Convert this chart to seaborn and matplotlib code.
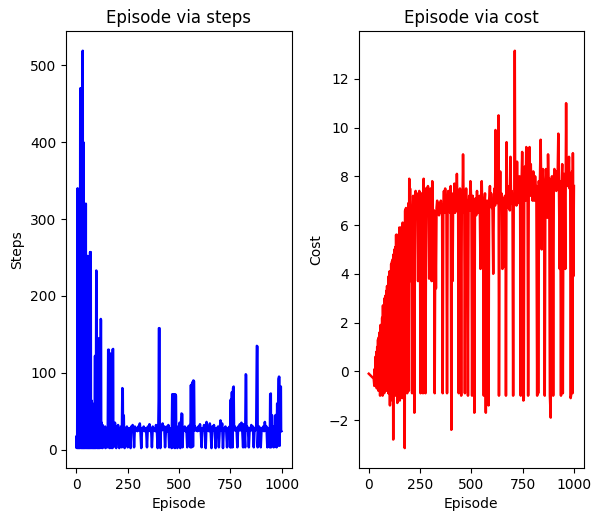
import matplotlib
matplotlib.use("Agg")
import matplotlib.pyplot as plt
import seaborn as sns

# steps per episode
step_eps = [0, 2, 4, 6, 7, 9, 10, 12, 13, 15, 16, 18, 19, 20, 22, 23, 25, 26, 28, 29,
            31, 32, 34, 35, 37, 38, 40, 41, 43, 44, 46, 47, 49, 50, 52, 53, 55, 56, 58, 59,
            61, 62, 64, 65, 67, 68, 70, 71, 73, 74, 76, 77, 79, 80, 82, 83, 85, 86, 88, 89,
            91, 92, 94, 95, 97, 98, 99, 101, 102, 104, 105, 107, 108, 110, 111, 113, 114, 116, 117, 119,
            120, 121, 123, 124, 126, 128, 130, 132, 134, 137, 140, 142, 145, 148, 151, 153, 155, 158, 159, 161,
            163, 165, 168, 169, 171, 174, 176, 179, 180, 182, 185, 188, 191, 194, 197, 200, 203, 206, 209, 212,
            215, 218, 221, 224, 226, 227, 229, 231, 232, 235, 238, 242, 246, 250, 253, 257, 261, 264, 267, 270,
            274, 278, 281, 285, 289, 293, 297, 301, 305, 309, 312, 316, 320, 324, 328, 332, 336, 340, 344, 348,
            352, 356, 360, 364, 368, 372, 376, 380, 384, 388, 392, 396, 399, 401, 402, 405, 406, 409, 412, 416,
            420, 424, 428, 432, 436, 440, 444, 448, 452, 456, 460, 464, 467, 470, 472, 474, 477, 480, 482, 485,
            486, 489, 492, 495, 499, 503, 506, 509, 512, 516, 517, 520, 524, 528, 532, 536, 540, 544, 548, 552,
            555, 558, 561, 563, 566, 568, 570, 573, 575, 578, 582, 586, 590, 594, 598, 602, 606, 610, 614, 618,
            622, 626, 630, 634, 638, 642, 646, 650, 654, 658, 662, 666, 670, 674, 678, 682, 686, 690, 694, 698,
            702, 706, 710, 714, 718, 722, 726, 730, 734, 738, 742, 746, 749, 752, 754, 756, 759, 761, 763, 766,
            768, 772, 776, 780, 784, 788, 792, 796, 800, 804, 808, 812, 815, 818, 822, 825, 827, 828, 832, 836,
            840, 844, 848, 852, 856, 860, 864, 868, 872, 876, 879, 882, 883, 886, 890, 894, 898, 902, 906, 910,
            914, 918, 922, 926, 930, 934, 938, 942, 944, 947, 948, 951, 954, 955, 958, 961, 964, 967, 970, 972,
            975, 978, 981, 984, 987, 989, 990, 993, 996, 997, 999]
steps = [3, 18, 2, 340, 3, 150, 2, 230, 4, 300, 2, 200, 470, 3, 470, 2, 300, 5, 380, 2,
         519, 3, 400, 2, 250, 6, 210, 2, 240, 3, 320, 2, 250, 5, 180, 2, 252, 4, 200, 2,
         250, 3, 230, 2, 257, 5, 257, 2, 64, 4, 40, 2, 30, 5, 55, 2, 35, 4, 60, 2,
         122, 3, 40, 2, 233, 230, 3, 85, 2, 40, 5, 70, 2, 145, 3, 60, 2, 40, 4, 170,
         168, 3, 35, 25, 2, 32, 26, 3, 28, 25, 30, 2, 26, 24, 3, 25, 130, 130, 3, 28,
         2, 125, 123, 3, 28, 2, 130, 131, 3, 30, 25, 35, 26, 2, 30, 25, 32, 24, 2, 28,
         25, 30, 3, 80, 78, 25, 45, 44, 25, 2, 26, 25, 30, 3, 25, 28, 24, 2, 30, 25,
         32, 25, 3, 30, 25, 28, 24, 30, 25, 34, 25, 2, 28, 25, 30, 24, 28, 25, 3, 30,
         25, 33, 24, 28, 3, 30, 25, 28, 24, 32, 25, 2, 28, 66, 158, 158, 30, 2, 28, 25,
         34, 26, 30, 3, 25, 30, 24, 32, 3, 28, 25, 2, 72, 70, 3, 72, 71, 2, 72, 70,
         25, 30, 2, 28, 25, 35, 2, 30, 47, 46, 3, 28, 25, 30, 24, 28, 3, 30, 25, 32,
         3, 84, 3, 85, 88, 4, 90, 89, 25, 30, 25, 28, 24, 30, 25, 33, 24, 3, 28, 25,
         32, 25, 2, 36, 25, 28, 24, 34, 25, 2, 30, 25, 32, 24, 2, 28, 25, 30, 3, 25,
         38, 25, 34, 2, 28, 25, 30, 24, 3, 28, 25, 30, 3, 65, 3, 74, 75, 3, 80, 82,
         25, 30, 25, 28, 3, 30, 25, 33, 25, 35, 25, 3, 33, 25, 3, 98, 97, 25, 30, 25,
         3, 28, 25, 32, 25, 30, 3, 28, 25, 30, 135, 134, 3, 25, 30, 25, 3, 28, 25, 30,
         24, 36, 25, 30, 3, 28, 25, 3, 72, 73, 3, 45, 44, 25, 30, 3, 28, 4, 45, 25,
         3, 60, 5, 92, 95, 94, 5, 80, 82, 25, 24]

# cost per episode
cost_eps = [0, 6, 12, 18, 24, 27, 29, 31, 33, 35, 37, 39, 41, 43, 45, 47, 49, 51, 53, 55,
            57, 59, 61, 63, 65, 67, 69, 71, 73, 75, 77, 79, 81, 83, 85, 87, 89, 91, 93, 95,
            97, 99, 101, 103, 105, 107, 109, 111, 113, 115, 117, 119, 121, 123, 125, 127, 129, 131, 133, 135,
            137, 139, 141, 143, 145, 147, 149, 151, 153, 155, 157, 159, 161, 163, 165, 167, 169, 171, 173, 175,
            177, 179, 181, 183, 185, 187, 189, 191, 193, 195, 197, 199, 201, 203, 205, 207, 209, 211, 213, 216,
            219, 222, 225, 228, 231, 234, 237, 240, 243, 246, 249, 252, 255, 258, 261, 264, 267, 270, 273, 276,
            279, 282, 285, 288, 291, 294, 297, 300, 303, 306, 309, 312, 315, 318, 321, 324, 327, 330, 333, 336,
            339, 342, 345, 348, 351, 354, 357, 360, 363, 366, 369, 372, 375, 378, 381, 384, 387, 390, 393, 396,
            399, 402, 405, 408, 411, 414, 417, 420, 423, 426, 429, 432, 435, 438, 441, 444, 447, 450, 453, 456,
            459, 462, 465, 468, 471, 474, 477, 480, 483, 486, 489, 492, 495, 500, 503, 506, 509, 512, 514, 517,
            520, 523, 527, 530, 533, 536, 540, 544, 547, 550, 553, 556, 560, 563, 566, 570, 573, 576, 580, 583,
            586, 590, 593, 596, 599, 602, 606, 609, 612, 615, 617, 619, 622, 625, 628, 632, 634, 637, 640, 643,
            646, 649, 651, 654, 657, 660, 663, 666, 668, 671, 674, 677, 680, 683, 687, 690, 693, 696, 700, 703,
            706, 709, 711, 713, 716, 719, 722, 725, 728, 731, 734, 737, 740, 743, 747, 750, 753, 755, 757, 760,
            763, 767, 770, 773, 776, 779, 783, 786, 789, 792, 795, 798, 801, 804, 807, 810, 813, 816, 820, 823,
            825, 828, 832, 837, 840, 842, 845, 848, 851, 854, 857, 860, 863, 867, 870, 873, 876, 879, 882, 886,
            889, 892, 895, 898, 901, 904, 907, 910, 913, 916, 919, 923, 926, 930, 933, 936, 939, 942, 945, 948,
            951, 954, 957, 961, 963, 966, 969, 972, 975, 978, 981, 983, 985, 987, 990, 992, 994, 996, 999]
cost = [-0.1, -0.15, -0.2, -0.25, -0.3, -0.6, 0.1, -0.4, 0.6, -0.5, 0.8, -0.7, 1.0, -0.4, 1.3, -0.8, 1.4, -0.5, 1.6, -1.0,
        1.9, -0.8, 1.9, -0.6, 2.2, -1.0, 2.7, -0.3, 2.7, -0.9, 3.0, -0.6, 3.1, -0.5, 3.3, -0.8, 3.5, -0.6, 3.4, -0.9,
        3.9, -0.7, 4.1, -1.4, 3.6, -0.9, 4.4, -0.5, 4.5, -1.2, 4.6, -2.8, 4.8, -0.8, 5.0, -0.4, 5.1, -1.0, 5.6, -0.8,
        5.6, -1.3, 5.5, -0.9, 5.6, -0.6, 5.9, -1.2, 5.7, -0.9, 5.9, -0.5, 5.6, -1.1, 6.1, -0.9, 6.0, -0.7, 5.8, -3.15,
        6.6, -0.9, 6.7, -0.8, 6.2, -0.9, 6.6, 3.7, 6.9, -0.8, 7.9, 6.3, 7.5, 6.2, 3.7, 6.5, 6.3, -0.9, 6.4, 7.2,
        6.4, -1.7, 6.3, 7.4, 6.5, 7.3, 6.4, 3.7, 6.6, 7.4, 6.5, -0.9, 6.6, 7.3, 6.4, -0.9, 7.9, 6.6, 7.5, -0.9,
        6.7, 7.5, 6.5, 7.6, 6.4, 3.8, 6.6, 7.5, 6.4, 3.7, 7.8, 6.5, 3.7, 6.6, -0.9, 6.5, 3.4, 6.7, 7.0, 6.5,
        6.8, 6.4, 6.9, 6.6, 7.0, 6.5, 6.8, -0.9, 6.7, 7.4, 6.5, 7.5, 6.6, 7.2, -0.9, 6.7, 7.4, 6.6, 6.9, 6.5,
        7.6, -2.4, 6.7, 3.7, 7.3, 6.6, 7.7, 6.5, 7.0, 6.6, 8.1, 6.7, 7.2, -0.9, 6.8, 7.5, 6.6, -1.0, 7.0, 6.5,
        8.9, 6.8, 7.2, -0.9, 6.7, 7.5, 6.5, 7.0, -1.0, 6.8, 7.2, 6.6, 7.8, 6.8, -1.0, 7.2, 6.5, 7.0, -1.7, 6.6,
        7.1, 6.4, 7.4, 6.6, 7.0, 6.5, 7.2, 4.2, 6.7, 7.8, 6.6, 7.1, -1.0, 6.8, 7.3, -1.7, 6.7, 7.0, 6.6, -1.4,
        7.0, 7.6, 6.8, 7.3, 6.7, 7.0, 4.0, 6.9, 7.5, 6.8, 9.9, 7.0, 8.4, 6.9, 7.4, 10.5, -1.0, 7.0, 8.2, 6.8,
        7.3, 6.7, 4.2, 7.1, 6.7, 4.3, 7.2, 6.8, -1.0, 9.4, 6.9, 7.6, 6.7, 7.2, 6.6, 8.8, 6.9, 7.4, 6.8, -1.0,
        7.2, 6.9, 13.15, 7.0, 7.6, 6.8, 8.6, 7.0, 7.5, 6.9, 8.0, 7.1, -1.0, 7.3, 9.0, 7.1, -1.2, -1.1, 7.2, 8.4,
        7.0, 9.2, 7.3, 8.1, -1.0, 7.4, 9.2, 7.2, 8.5, 7.3, 7.8, 7.0, 8.2, 7.4, 7.0, 8.0, 7.3, 7.6, -1.0, 7.4,
        -0.9, 7.8, 7.2, 9.5, 7.4, 5.0, 7.6, 8.3, 7.3, 7.8, -1.0, 7.5, 8.3, 7.4, 6.3, 8.9, 7.5, 7.9, -1.0, -1.9,
        7.6, 8.0, 7.4, -1.0, 7.7, 8.3, 7.5, 8.0, 7.4, 8.2, 7.6, 9.75, 7.7, 4.2, 7.8, -1.0, 7.5, 8.5, -0.9, 7.6,
        8.1, 7.5, 4.2, 11.0, 7.8, 8.3, 7.6, 7.9, 8.8, 7.5, 8.1, -1.1, -1.0, 7.7, 8.2, -0.9, 8.95, 3.9, 7.6]

fig, (ax1, ax2) = plt.subplots(1, 2, figsize=(6.01, 5.24), dpi=100)

sns.lineplot(x=step_eps, y=steps, ax=ax1, color="blue", linewidth=1.8,
             estimator=None, sort=False)
ax1.set_title("Episode via steps")
ax1.set_xlabel("Episode")
ax1.set_ylabel("Steps")

sns.lineplot(x=cost_eps, y=cost, ax=ax2, color="red", linewidth=1.8,
             estimator=None, sort=False)
ax2.set_title("Episode via cost")
ax2.set_xlabel("Episode")
ax2.set_ylabel("Cost")

plt.subplots_adjust(left=0.11, right=0.972, top=0.941, bottom=0.107, wspace=0.296)
plt.savefig("out.png")
